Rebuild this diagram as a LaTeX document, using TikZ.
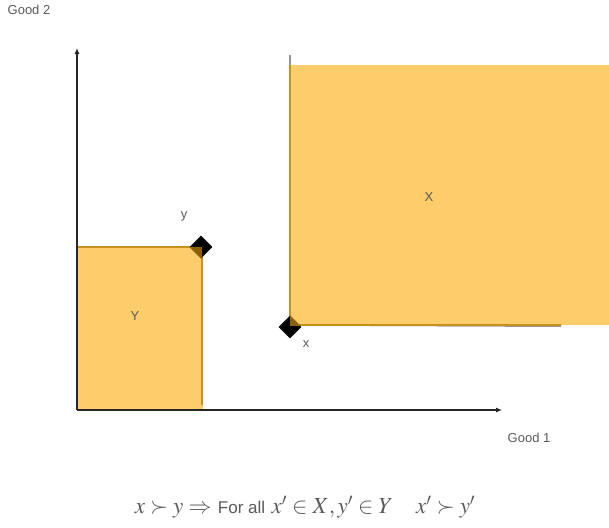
\documentclass[tikz,border=0pt]{standalone}
\usepackage{mathptmx}
\usepackage{fontspec}
\setmainfont{Liberation Sans}
\usetikzlibrary{shapes.geometric, arrows.meta}

\definecolor{setfill}{HTML}{FCCD6A}
\definecolor{setedge}{HTML}{C8901E}
\definecolor{overlap}{HTML}{8C5F0A}
\definecolor{labelgray}{HTML}{5A5A5A}

\newcommand{\plaintext}[1]{{\fontsize{17}{20}\selectfont #1}}

\begin{document}
\begin{tikzpicture}[
    x=1pt, y=-1pt,
    axis/.style={-{Latex[length=6pt,width=5pt]}, line width=1.1pt, black!85},
    setbox/.style={fill=setfill},
    edge/.style={setedge, line width=1.6pt},
    bundle/.style={diamond, fill=black, inner sep=0pt, minimum size=23pt},
    lbl/.style={text=labelgray, font=\fontsize{13}{15}\selectfont}
]
\useasboundingbox (0,0) rectangle (609,527);

% Set X
\fill[setbox] (290,65) rectangle (609,325);
\draw[gray!70!black, line width=1.4pt] (290,55) -- (290,325) -- (561,326);
\draw[edge] (290,65) -- (290,325) -- (561,325);

% Set Y
\fill[setbox] (77,246) rectangle (203,410);
\draw[edge] (77,247) -- (202,247) -- (202,405);

% Axes
\coordinate (origin) at (77,410);
\coordinate (g2end) at (77,48);
\coordinate (g1end) at (502,410);
\draw[axis] (origin) -- (g2end);
\draw[axis] (origin) -- (g1end);

% Bundles
\node[bundle] (ypt) at (201,247) {};
\node[bundle] (xpt) at (290,327) {};
\begin{scope}
  \clip (77,247) rectangle (202,410);
  \fill[overlap] (ypt.north) -- (ypt.east) -- (ypt.south) -- (ypt.west) -- cycle;
\end{scope}
\begin{scope}
  \clip (290,65) rectangle (609,325);
  \fill[overlap] (xpt.north) -- (xpt.east) -- (xpt.south) -- (xpt.west) -- cycle;
\end{scope}

% Labels
\node[lbl] (g2lbl) at (29,10) {Good 2};
\node[lbl] (g1lbl) at (529,438) {Good 1};
\node[lbl] (ylbl) at (184,216) {y};
\node[lbl] (xlbl) at (306,344) {x};
\node[lbl] (Xlbl) at (429,197) {X};
\node[lbl] (Ylbl) at (135,316) {Y};

% Formula
\node[text=labelgray, font=\fontsize{23}{27}\selectfont] (rule) at (305,507)
  {$x \succ y \Rightarrow$ \plaintext{For all} $x' \in X, y' \in Y\quad x' \succ y'$};

\end{tikzpicture}
\end{document}
